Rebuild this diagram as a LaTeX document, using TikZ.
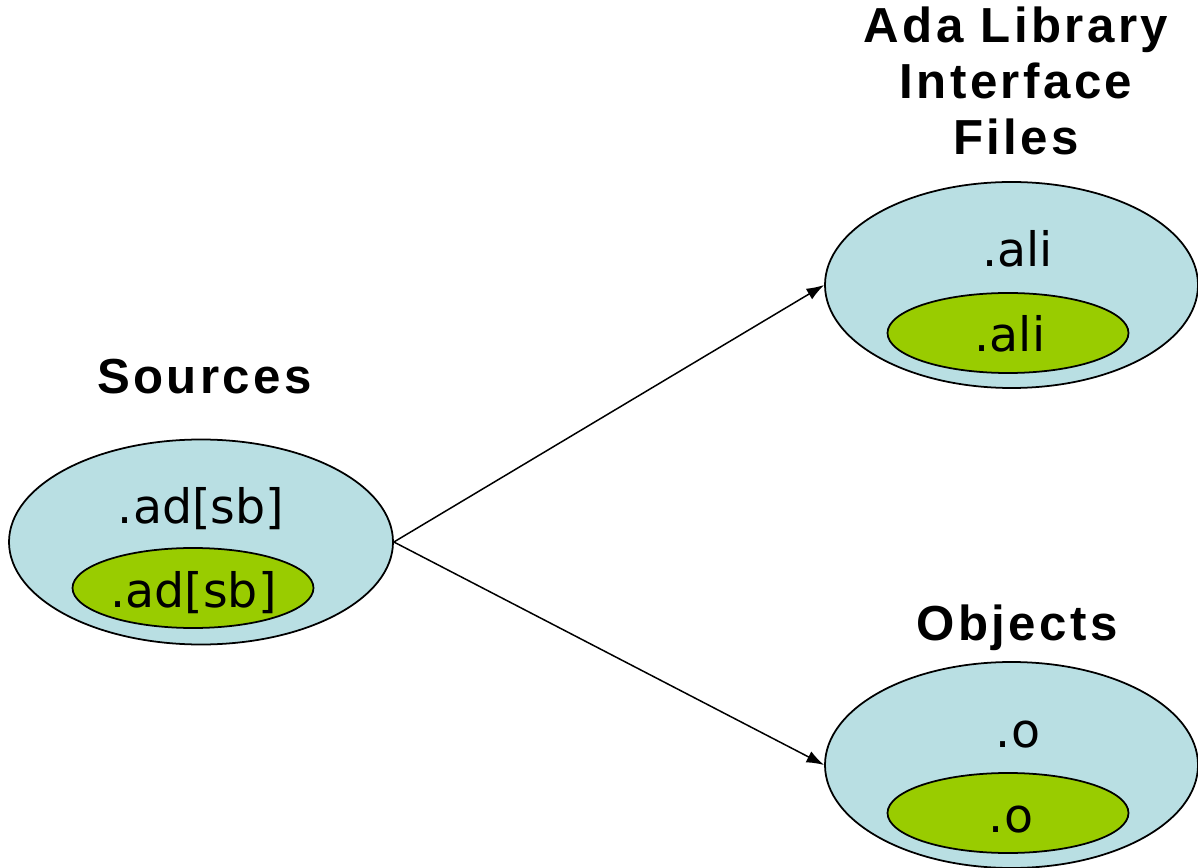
\documentclass[tikz,border=0pt]{standalone}
\usepackage{fontspec}
\setmainfont{DejaVu Sans}
\newfontfamily\titlefont{Liberation Sans}[LetterSpace=7]
\definecolor{PaleTeal}{RGB}{185,223,227}
\definecolor{LeafGreen}{RGB}{153,204,0}
\usetikzlibrary{positioning,arrows.meta,shapes.geometric}

\begin{document}
\begin{tikzpicture}[>={Latex[length=10pt,width=7pt]},
      outer/.style={ellipse,draw=black,line width=1pt,fill=PaleTeal,
                    minimum width=7.46cm,minimum height=4.12cm,inner sep=0pt},
      inner/.style={ellipse,draw=black,line width=1pt,fill=LeafGreen,
                    minimum width=4.82cm,minimum height=1.6cm,inner sep=0pt},
      ext/.style={anchor=base,inner sep=0pt,font=\fontsize{27}{32}\selectfont},
      ttl/.style={anchor=base,inner sep=0pt,align=center,
                  font=\titlefont\bfseries\fontsize{28}{31.9}\selectfont},
      ar/.style={->,line width=0.85pt}]
    \useasboundingbox (0,0) rectangle (23.96,-17.36);
    % sources
    \node[outer,minimum width=7.68cm,minimum height=4.1cm] (src) at (4.02,-10.84) {};
    \node[inner] (srcin) at (3.86,-11.76) {};
    \node[ext] (srctxt) at (4.02,-10.46) {.ad[sb]};
    \node[ext] (srcintxt) at (3.87,-12.14) {.ad[sb]};
    \node[ttl] (srcttl) at (4.09,-7.88) {Sources};
    % library interface files
    \node[outer] (ali) at (20.23,-5.70) {};
    \node[inner] (aliin) at (20.16,-6.66) {};
    \node[ext] (alitxt) at (20.35,-5.34) {.ali};
    \node[ext] (aliintxt) at (20.20,-7.04) {.ali};
    \node[ttl] (alittl) at (20.32,-3.10) {Ada Library\\Interface\\Files};
    % objects
    \node[outer] (obj) at (20.23,-15.30) {};
    \node[inner] (objin) at (20.16,-16.26) {};
    \node[ext] (objtxt) at (20.36,-14.94) {.o};
    \node[ext] (objintxt) at (20.22,-16.64) {.o};
    \node[ttl] (objttl) at (20.34,-12.80) {Objects};
    \draw[ar] (src.east) -- (ali.west);
    \draw[ar] (src.east) -- (obj.west);
  \end{tikzpicture}
\end{document}
